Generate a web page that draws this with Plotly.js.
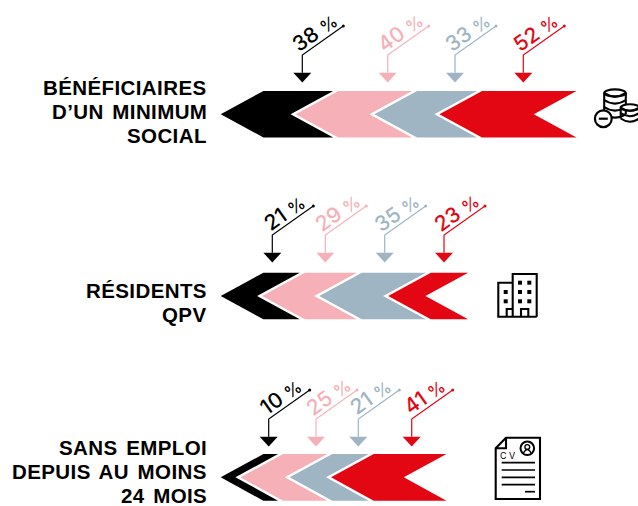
<!DOCTYPE html>
<html><head><meta charset="utf-8">
<script src="https://cdn.plot.ly/plotly-3.0.1.min.js"></script>
<style>html,body{margin:0;padding:0;background:#fff}#c{width:638px;height:506px}</style>
</head><body><div id="c"></div><script>
// ---- data
const rowNames = [["BÉNÉFICIAIRES","D’UN MINIMUM","SOCIAL"],["RÉSIDENTS","QPV"],["SANS EMPLOI","DEPUIS AU MOINS","24 MOIS"]];
const row1Values = [38,40,33,52];
const row2Values = [21,29,35,23];
const row3Values = [10,25,21,41];
const seriesColors = ["#000000","#f6b1b8","#9fb5c3","#e30613"];

// ---- layout (pixels)
const W=638,H=506,X0=220.7,K=1.97;
const GAP=5,END_CUT=8,SHOULDER=42.7;
const rowsGeom=[
 {values:row1Values,top:91,bot:137.4,labelY:[87.5,111.5,135.5],arrowX:[302.3,387.7,455,523.3],arrowTop:72.7},
 {values:row2Values,top:272.7,bot:319.3,labelY:[290,314],arrowX:[272.3,325.3,384.7,444],arrowTop:252.7},
 {values:row3Values,top:454,bot:500.7,labelY:[447.5,471.5,495],arrowX:[268.7,316,358.3,411.7],arrowTop:436.7}
];
const ux=px=>(px-X0)/K; // pixel offset -> x-axis units (percent)
const traces=[],annotations=[],shapes=[];
const FONT="Inter, 'Liberation Sans', sans-serif";
const LABELFONT="'Liberation Sans', Arial, sans-serif";

rowsGeom.forEach((r,ri)=>{
  const yc=(r.top+r.bot)/2;
  let cum=0;
  r.values.forEach((v,i)=>{
    const tip=cum; cum+=v;
    const isLast=i===r.values.length-1;
    const notch=cum-(isLast?END_CUT:GAP)/K, sh=SHOULDER/K;
    traces.push({type:"scatter",mode:"lines",fill:"toself",fillcolor:seriesColors[i],
      line:{width:0,color:seriesColors[i]},hoverinfo:"skip",showlegend:false,
      x:[tip,tip+sh,notch+sh,notch,notch+sh,tip+sh,tip],
      y:[yc,r.top,r.top,yc,r.bot,r.bot,yc]});
    // leader
    const ax=ux(r.arrowX[i]),t=r.arrowTop,elbow=t-17.7;
    traces.push({type:"scatter",mode:"lines",line:{width:1.2,color:seriesColors[i]},hoverinfo:"skip",showlegend:false,
      x:[ax,ax,ax+41/K],y:[t,elbow,elbow-29]});
    traces.push({type:"scatter",mode:"markers",marker:{size:3,color:seriesColors[i]},hoverinfo:"skip",showlegend:false,
      x:[ax+41/K],y:[elbow-29]});
    traces.push({type:"scatter",mode:"lines",fill:"toself",fillcolor:seriesColors[i],line:{width:0,color:seriesColors[i]},hoverinfo:"skip",showlegend:false,
      x:[ax-9/K,ax+9/K,ax,ax-9/K],y:[t,t,t+9.7,t]});
    annotations.push({x:ax+12/K,y:elbow-23,xref:"x",yref:"y",text:v+' <span style="font-size:17px">%</span>',showarrow:false,textangle:-35.3,
      xanchor:"center",yanchor:"middle",font:{family:FONT,size:21,weight:500,color:seriesColors[i]}});
  });
  rowNames[ri].forEach((line,li)=>{
    annotations.push({x:ux(208.5),y:r.labelY[li],xref:"x",yref:"y",
      text:'<span style="letter-spacing:0.4px;word-spacing:2.5px">'+line+'</span>',showarrow:false,xanchor:"right",yanchor:"middle",
      font:{family:LABELFONT,size:20.5,weight:700,color:"#000"}});
  });
});

// ---- icons, in paper coordinates from pixels
const px=x=>(x/W).toFixed(5), py=y=>(1-y/H).toFixed(5);
const S={color:"#000",width:2.1};
function path(d,w){shapes.push({type:"path",xref:"paper",yref:"paper",path:d,line:{color:S.color,width:w||S.width},fillcolor:"rgba(0,0,0,0)",layer:"above"});}
function seg(pts,close,w){path(pts.map((p,i)=>(i?"L":"M")+px(p[0])+","+py(p[1])).join(" ")+(close?" Z":""),w);}
function ell(cx,cy,rx,ry,fill,w){shapes.push({type:"circle",xref:"paper",yref:"paper",x0:px(cx-rx),x1:px(cx+rx),y0:py(cy+ry),y1:py(cy-ry),
  line:{color:S.color,width:w||S.width},fillcolor:fill||"rgba(0,0,0,0)",layer:"above"});}
function rectFill(x0,y0,x1,y1){shapes.push({type:"rect",xref:"paper",yref:"paper",x0:px(x0),x1:px(x1),y0:py(y1),y1:py(y0),line:{width:0},fillcolor:S.color,layer:"above"});}
function arc(x0,x1,y,d,w){path("M"+px(x0)+","+py(y)+" Q"+px((x0+x1)/2)+","+py(y+d)+" "+px(x1)+","+py(y),w);}
// coins
ell(615,93,10.8,3.6);
[93,100,107,114].forEach(y=>arc(604.2,625.8,y,7.2));
seg([[604.2,93],[604.2,114]]);seg([[625.8,93],[625.8,114]]);
ell(630,107.5,9.3,3.2,"#fff");
[107.5,113,118.5].forEach(y=>arc(620.7,639.3,y,6.4));
seg([[620.7,107.5],[620.7,118.5]]);
ell(603.3,118.7,8.4,8.4,"#fff",2.2);
seg([[598.8,118.7],[607.8,118.7]],false,2.2);
// building
seg([[512.7,316.7],[512.7,274],[536.7,274],[536.7,316.7]],false);
seg([[512.7,282.7],[498.3,282.7],[498.3,316.7],[536.7,316.7]],false);
seg([[506.7,316.7],[506.7,309],[512.7,309]],false);
seg([[521,316.7],[521,309],[528.3,309],[528.3,316.7]],false);
[[520,282.7],[529.3,282.7],[520,292],[529.3,292],[520,301.3],[529.3,301.3],[505.7,292],[505.7,301.3]].forEach(p=>rectFill(p[0]-2,p[1]-2,p[0]+2,p[1]+2));
// CV
seg([[506,437.7],[540,437.7],[540,499],[495.7,499],[495.7,448.3]],true);
seg([[506,437.7],[506,448.3],[495.7,448.3]],false);
ell(527.3,448.3,6.8,6.8,null,2);
ell(527.3,447,2.4,2.4,null,1.4);
arc(523.5,531.1,453,-7,1.4);
[462.7,470,477.3,484.7].forEach(y=>seg([[501.7,y],[535,y]],false,1.7));
seg([[525,491.7],[535,491.7]],false,1.7);
annotations.push({x:ux(507),y:455,xref:"x",yref:"y",text:"C V",showarrow:false,xanchor:"center",yanchor:"middle",
  font:{family:FONT,size:9,color:"#000"}});

Plotly.newPlot("c",traces,{
  width:W,height:H,margin:{l:0,r:0,t:0,b:0},paper_bgcolor:"#fff",plot_bgcolor:"#fff",showlegend:false,
  xaxis:{range:[ux(0),ux(W)],visible:false,fixedrange:true},
  yaxis:{range:[H,0],visible:false,fixedrange:true},
  annotations,shapes
},{staticPlot:true,displayModeBar:false});
</script></body></html>
